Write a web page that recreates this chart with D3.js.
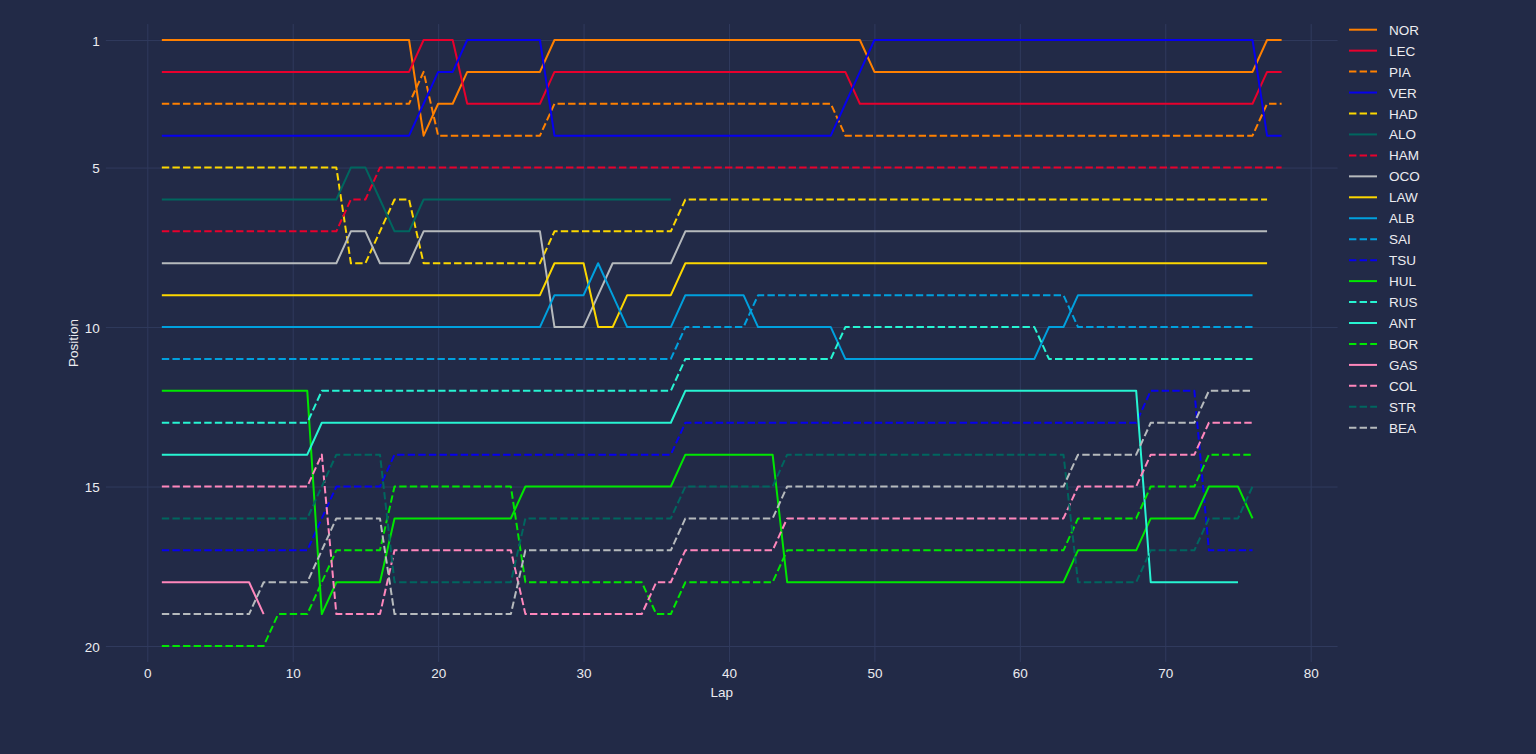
<!DOCTYPE html>
<html>
<head>
<meta charset="utf-8">
<script src="https://cdn.jsdelivr.net/npm/d3@7"></script>
<style>
  html, body { margin: 0; padding: 0; background: #222a47; }
  svg { display: block; }
  text { font-family: "Liberation Sans", Arial, sans-serif; }
</style>
</head>
<body>
<svg id="chart" width="1536" height="754"></svg>
<script>
// ---------------- DATA ----------------
const drivers = ["NOR","LEC","PIA","VER","HAD","ALO","HAM","OCO","LAW","ALB",
                 "SAI","TSU","HUL","RUS","ANT","BOR","GAS","COL","STR","BEA"];

const xTicks = [0, 10, 20, 30, 40, 50, 60, 70, 80];
const yTicks = [1, 5, 10, 15, 20];

// position per lap, starting at lap 1 (one row = ten laps)
const NOR = [1,1,1,1,1,1,1,1,1,1, 1,1,1,1,1,1,1,1,4,3, 3,2,2,2,2,2,2,1,1,1, 1,1,1,1,1,1,1,1,1,1,
             1,1,1,1,1,1,1,1,1,2, 2,2,2,2,2,2,2,2,2,2, 2,2,2,2,2,2,2,2,2,2, 2,2,2,2,2,2,1,1];
const LEC = [2,2,2,2,2,2,2,2,2,2, 2,2,2,2,2,2,2,2,1,1, 1,3,3,3,3,3,3,2,2,2, 2,2,2,2,2,2,2,2,2,2,
             2,2,2,2,2,2,2,2,3,3, 3,3,3,3,3,3,3,3,3,3, 3,3,3,3,3,3,3,3,3,3, 3,3,3,3,3,3,2,2];
const PIA = [3,3,3,3,3,3,3,3,3,3, 3,3,3,3,3,3,3,3,2,4, 4,4,4,4,4,4,4,3,3,3, 3,3,3,3,3,3,3,3,3,3,
             3,3,3,3,3,3,3,4,4,4, 4,4,4,4,4,4,4,4,4,4, 4,4,4,4,4,4,4,4,4,4, 4,4,4,4,4,4,3,3];
const VER = [4,4,4,4,4,4,4,4,4,4, 4,4,4,4,4,4,4,4,3,2, 2,1,1,1,1,1,1,4,4,4, 4,4,4,4,4,4,4,4,4,4,
             4,4,4,4,4,4,4,3,2,1, 1,1,1,1,1,1,1,1,1,1, 1,1,1,1,1,1,1,1,1,1, 1,1,1,1,1,1,4,4];
const HAD = [5,5,5,5,5,5,5,5,5,5, 5,5,5,8,8,7,6,6,8,8, 8,8,8,8,8,8,8,7,7,7, 7,7,7,7,7,7,6,6,6,6,
             6,6,6,6,6,6,6,6,6,6, 6,6,6,6,6,6,6,6,6,6, 6,6,6,6,6,6,6,6,6,6, 6,6,6,6,6,6,6];
const ALO = [6,6,6,6,6,6,6,6,6,6, 6,6,6,5,5,6,7,7,6,6, 6,6,6,6,6,6,6,6,6,6, 6,6,6,6,6,6];
const HAM = [7,7,7,7,7,7,7,7,7,7, 7,7,7,6,6,5,5,5,5,5, 5,5,5,5,5,5,5,5,5,5, 5,5,5,5,5,5,5,5,5,5,
             5,5,5,5,5,5,5,5,5,5, 5,5,5,5,5,5,5,5,5,5, 5,5,5,5,5,5,5,5,5,5, 5,5,5,5,5,5,5,5];
const OCO = [8,8,8,8,8,8,8,8,8,8, 8,8,8,7,7,8,8,8,7,7, 7,7,7,7,7,7,7,10,10,10, 9,8,8,8,8,8,7,7,7,7,
             7,7,7,7,7,7,7,7,7,7, 7,7,7,7,7,7,7,7,7,7, 7,7,7,7,7,7,7,7,7,7, 7,7,7,7,7,7,7];
const LAW = [9,9,9,9,9,9,9,9,9,9, 9,9,9,9,9,9,9,9,9,9, 9,9,9,9,9,9,9,8,8,8, 10,10,9,9,9,9,8,8,8,8,
             8,8,8,8,8,8,8,8,8,8, 8,8,8,8,8,8,8,8,8,8, 8,8,8,8,8,8,8,8,8,8, 8,8,8,8,8,8,8];
const ALB = [10,10,10,10,10,10,10,10,10,10, 10,10,10,10,10,10,10,10,10,10, 10,10,10,10,10,10,10,9,9,9,
             8,9,10,10,10,10,9,9,9,9, 9,10,10,10,10,10,10,11,11,11, 11,11,11,11,11,11,11,11,11,11,
             11,10,10,9,9,9,9,9,9,9, 9,9,9,9,9,9];
const SAI = [11,11,11,11,11,11,11,11,11,11, 11,11,11,11,11,11,11,11,11,11, 11,11,11,11,11,11,11,11,11,11,
             11,11,11,11,11,11,10,10,10,10, 10,9,9,9,9,9,9,9,9,9, 9,9,9,9,9,9,9,9,9,9,
             9,9,9,10,10,10,10,10,10,10, 10,10,10,10,10,10];
const TSU = [17,17,17,17,17,17,17,17,17,17, 17,16,15,15,15,15,14,14,14,14, 14,14,14,14,14,14,14,14,14,14,
             14,14,14,14,14,14,13,13,13,13, 13,13,13,13,13,13,13,13,13,13, 13,13,13,13,13,13,13,13,13,13,
             13,13,13,13,13,13,13,13,12,12, 12,12,17,17,17,17];
const HUL = [12,12,12,12,12,12,12,12,12,12, 12,19,18,18,18,18,16,16,16,16, 16,16,16,16,16,15,15,15,15,15,
             15,15,15,15,15,15,14,14,14,14, 14,14,14,18,18,18,18,18,18,18, 18,18,18,18,18,18,18,18,18,18,
             18,18,18,17,17,17,17,17,16,16, 16,16,15,15,15,16];
const RUS = [13,13,13,13,13,13,13,13,13,13, 13,12,12,12,12,12,12,12,12,12, 12,12,12,12,12,12,12,12,12,12,
             12,12,12,12,12,12,11,11,11,11, 11,11,11,11,11,11,11,10,10,10, 10,10,10,10,10,10,10,10,10,10,
             10,11,11,11,11,11,11,11,11,11, 11,11,11,11,11,11];
const ANT = [14,14,14,14,14,14,14,14,14,14, 14,13,13,13,13,13,13,13,13,13, 13,13,13,13,13,13,13,13,13,13,
             13,13,13,13,13,13,12,12,12,12, 12,12,12,12,12,12,12,12,12,12, 12,12,12,12,12,12,12,12,12,12,
             12,12,12,12,12,12,12,12,18,18, 18,18,18,18,18];
const BOR = [20,20,20,20,20,20,20,20,19,19, 19,18,17,17,17,17,15,15,15,15, 15,15,15,15,15,18,18,18,18,18,
             18,18,18,18,19,19,18,18,18,18, 18,18,18,17,17,17,17,17,17,17, 17,17,17,17,17,17,17,17,17,17,
             17,17,17,16,16,16,16,16,15,15, 15,15,14,14,14,14];
const GAS = [18,18,18,18,18,18,18,19];
const COL = [15,15,15,15,15,15,15,15,15,15, 15,14,19,19,19,19,17,17,17,17, 17,17,17,17,17,19,19,19,19,19,
             19,19,19,19,18,18,17,17,17,17, 17,17,17,16,16,16,16,16,16,16, 16,16,16,16,16,16,16,16,16,16,
             16,16,16,15,15,15,15,15,14,14, 14,14,13,13,13,13];
const STR = [16,16,16,16,16,16,16,16,16,16, 16,15,14,14,14,14,18,18,18,18, 18,18,18,18,18,16,16,16,16,16,
             16,16,16,16,16,16,15,15,15,15, 15,15,15,14,14,14,14,14,14,14, 14,14,14,14,14,14,14,14,14,14,
             14,14,14,18,18,18,18,18,17,17, 17,17,16,16,16,15];
const BEA = [19,19,19,19,19,19,19,18,18,18, 18,17,16,16,16,16,19,19,19,19, 19,19,19,19,19,17,17,17,17,17,
             17,17,17,17,17,17,16,16,16,16, 16,16,16,15,15,15,15,15,15,15, 15,15,15,15,15,15,15,15,15,15,
             15,15,15,14,14,14,14,14,13,13, 13,13,12,12,12,12];

const positions = {NOR, LEC, PIA, VER, HAD, ALO, HAM, OCO, LAW, ALB,
                   SAI, TSU, HUL, RUS, ANT, BOR, GAS, COL, STR, BEA};

// ---------------- STYLE ----------------
const style = {
  NOR: {c: "#ff8000", d: false}, LEC: {c: "#e8002d", d: false}, PIA: {c: "#ff8000", d: true},
  VER: {c: "#0600ef", d: false}, HAD: {c: "#fcd700", d: true},  ALO: {c: "#00665f", d: false},
  HAM: {c: "#e8002d", d: true},  OCO: {c: "#b6babd", d: false}, LAW: {c: "#fcd700", d: false},
  ALB: {c: "#00a0de", d: false}, SAI: {c: "#00a0de", d: true},  TSU: {c: "#0600ef", d: true},
  HUL: {c: "#00e701", d: false}, RUS: {c: "#27f4d2", d: true},  ANT: {c: "#27f4d2", d: false},
  BOR: {c: "#00e701", d: true},  GAS: {c: "#ff87bc", d: false}, COL: {c: "#ff87bc", d: true},
  STR: {c: "#00665f", d: true},  BEA: {c: "#b6babd", d: true}
};
const DASH = "7.4,3.2";
const TEXT = "#ececf0";
const GRID = "#303a5d";
const FS = "13.5px";

// ---------------- LAYOUT ----------------
const svg = d3.select("#chart");
const L = 105.85, R = 1337.6, T = 24.05, B = 661.95;

const x = d3.scaleLinear().domain([-2.85, 81.85]).range([L, R]);
const y = d3.scaleLinear().domain([0.5, 20.5]).range([T, B]);

svg.append("rect").attr("width", 1536).attr("height", 754).attr("fill", "#222a47");

// grid
const gx = svg.append("g").attr("transform", `translate(0,${B})`)
  .call(d3.axisBottom(x).tickValues(xTicks).tickSize(-(B - T)).tickFormat(""));
const gy = svg.append("g").attr("transform", `translate(${L},0)`)
  .call(d3.axisLeft(y).tickValues(yTicks).tickSize(-(R - L)).tickFormat(""));
[gx, gy].forEach(g => {
  g.select(".domain").remove();
  g.selectAll(".tick line").attr("stroke", GRID).attr("stroke-width", 1);
});

// tick labels
const ax = svg.append("g").attr("transform", `translate(0,${B})`)
  .call(d3.axisBottom(x).tickValues(xTicks).tickSize(0).tickPadding(6));
const ay = svg.append("g").attr("transform", `translate(${L},0)`)
  .call(d3.axisLeft(y).tickValues(yTicks).tickSize(0).tickPadding(6));
[ax, ay].forEach(g => {
  g.select(".domain").remove();
  g.selectAll(".tick text").attr("fill", TEXT).attr("font-size", FS)
    .attr("font-family", '"Liberation Sans", Arial, sans-serif');
});
ay.selectAll(".tick text").attr("dy", "0.38em");

// axis titles
svg.append("text").attr("x", (L + R) / 2).attr("y", 697).attr("text-anchor", "middle")
  .attr("fill", TEXT).attr("font-size", FS).text("Lap");
svg.append("text").attr("transform", `translate(77.5,${(T + B) / 2}) rotate(-90)`)
  .attr("text-anchor", "middle").attr("fill", TEXT).attr("font-size", FS).text("Position");

// lines
const line = d3.line().x((d, i) => x(i + 1)).y(d => y(d));
const plot = svg.append("g");
drivers.forEach(dr => {
  plot.append("path")
    .datum(positions[dr])
    .attr("d", line)
    .attr("fill", "none")
    .attr("stroke", style[dr].c)
    .attr("stroke-width", 2)
    .attr("stroke-linejoin", "round")
    .attr("stroke-dasharray", style[dr].d ? DASH : null);
});

// legend
const leg = svg.append("g");
drivers.forEach((dr, i) => {
  const cy = 29.7 + i * 20.95;
  leg.append("line").attr("x1", 1349).attr("x2", 1377).attr("y1", cy).attr("y2", cy)
    .attr("stroke", style[dr].c).attr("stroke-width", 2)
    .attr("stroke-dasharray", style[dr].d ? DASH : null);
  leg.append("text").attr("x", 1389).attr("y", cy + 5).attr("fill", TEXT)
    .attr("font-size", FS).text(dr);
});
</script>
</body>
</html>
